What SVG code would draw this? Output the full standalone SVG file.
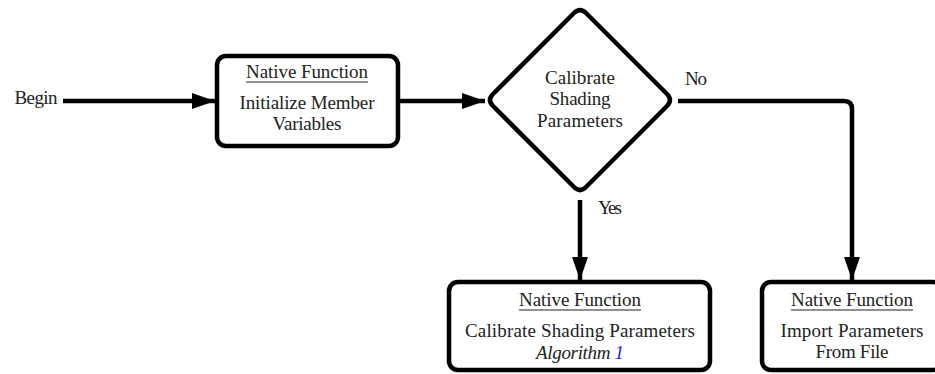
<svg xmlns="http://www.w3.org/2000/svg" width="935" height="374" viewBox="0 0 935 374">
<style>
.node{fill:#fff;stroke:#000;stroke-width:4.5}
.edge{fill:none;stroke:#000;stroke-width:4.5}
.ul{stroke:#222;stroke-width:1}
</style>
<defs>
<marker id="ah" markerUnits="userSpaceOnUse" markerWidth="24" markerHeight="16" refX="23" refY="8" orient="auto">
<path d="M0,0 L23,8 L0,16 z" fill="#000"/>
</marker>
</defs>
<rect width="935" height="374" fill="#fff"/>
<g id="edges">
<path class="edge" d="M63,101 H215" marker-end="url(#ah)"/>
<path class="edge" d="M400,101 H485" marker-end="url(#ah)"/>
<path class="edge" d="M678,101 H844 Q852,101 852,109 V280" marker-end="url(#ah)"/>
<path class="edge" d="M580,200 V280" marker-end="url(#ah)"/>
</g>
<g font-family="'Liberation Serif', serif" font-size="19" fill="#222" text-anchor="middle">
<g id="begin">
<text x="36" y="104" textLength="43">Begin</text>
</g>
<g id="init">
<rect class="node" x="217" y="56" width="181" height="90" rx="9"/>
<text x="307" y="78" textLength="122">Native Function</text>
<line class="ul" x1="246" y1="82" x2="368" y2="82"/>
<text x="307" y="109" textLength="135">Initialize Member</text>
<text x="307" y="130" textLength="69">Variables</text>
</g>
<g id="decision">
<path class="node" d="M574,13 Q580,7 586,13 L667,94 Q673,100 667,106 L586,187 Q580,193 574,187 L493,106 Q487,100 493,94 Z"/>
<text x="580" y="84" textLength="70">Calibrate</text>
<text x="580" y="105" textLength="61">Shading</text>
<text x="580" y="127" textLength="86">Parameters</text>
</g>
<g id="labels">
<text x="696" y="85" textLength="22">No</text>
<text x="610" y="214" textLength="24">Yes</text>
</g>
<g id="calibrate">
<rect class="node" x="449" y="282" width="261" height="88" rx="9"/>
<text x="580" y="306" textLength="122">Native Function</text>
<line class="ul" x1="519" y1="310" x2="641" y2="310"/>
<text x="580" y="337" textLength="230">Calibrate Shading Parameters</text>
<text x="580" y="359" font-style="italic" textLength="88">Algorithm <tspan fill="#1a1aff">1</tspan></text>
</g>
<g id="import">
<rect class="node" x="762" y="282" width="180" height="88" rx="9"/>
<text x="852" y="306" textLength="122">Native Function</text>
<line class="ul" x1="791" y1="310" x2="913" y2="310"/>
<text x="852" y="337" textLength="143">Import Parameters</text>
<text x="852" y="358" textLength="73">From File</text>
</g>
</g>
</svg>
